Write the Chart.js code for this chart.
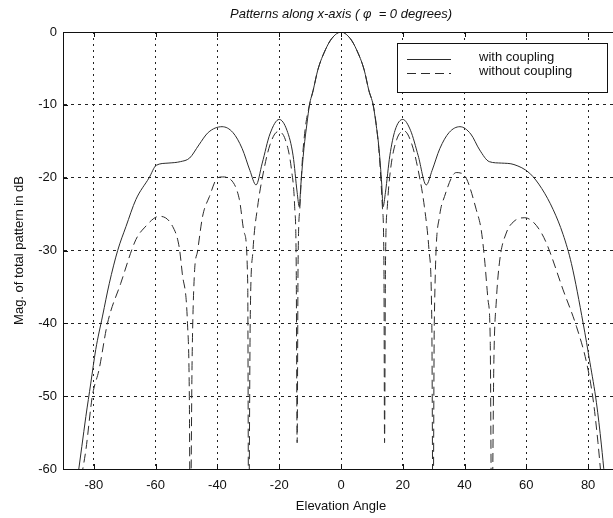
<!DOCTYPE html>
<html>
<head>
<meta charset="utf-8">
<script src="https://cdn.jsdelivr.net/npm/chart.js@4"></script>
<style>
  html, body { margin: 0; padding: 0; background: #fff; overflow: hidden; }
  #wrap { width: 613px; height: 518px; overflow: hidden; }
  canvas { display: block; }
</style>
</head>
<body>
<div id="wrap"><canvas id="patternChart" width="630" height="518"></canvas></div>
<script>
// tick labels
const xTicks = [-80, -60, -40, -20, 0, 20, 40, 60, 80];
const yTicks = [0, -10, -20, -30, -40, -50, -60];

// with coupling (solid)
const withAngle = [-85.2, -83.9, -82.6, -81, -79.4, -77.2, -75, -72.3, -69.6, -66.4, -62.1, -59.8, -56, -52, -49, -46, -43, -38.5, -35, -32, -29.5, -27.5, -25.5, -23, -20, -17.5, -15.5, -14.2, -13.5, -13, -12, -11, -10.2, -9, -7.5, -5, -3, 0,
  3, 5, 7.5, 9, 10.4, 11.3, 12.3, 13.2, 13.6, 14.4, 15.8, 17.5, 20, 22.5, 25, 27.6, 29.5, 32, 35, 38.5, 42, 44.9, 48, 52, 56, 61.1, 65, 68.7, 71.9, 74.6, 78.4, 80.6, 82.7, 84.3, 85.3];
const withDb = [-61, -56.9, -52.8, -48.2, -43.6, -39, -34.5, -30, -26.7, -23, -20, -18.3, -18, -17.8, -17.3, -15.5, -13.8, -13, -13.8, -16, -19, -21, -18, -14, -12, -13.5, -17, -22, -24, -21, -16, -12.5, -10, -8, -5.2, -2.4, -0.9, 0,
  -0.9, -2.4, -5.2, -8, -10, -12.5, -16, -21, -24, -22, -17, -13.5, -12, -13.5, -17, -21, -19, -16, -13.8, -13, -14, -16.2, -17.8, -18, -18.2, -19.4, -21.5, -24.4, -27.8, -31.8, -40, -45.4, -50.9, -56.7, -61];

// without coupling (dashed)
const withoutAngle = [-84, -82.6, -80.5, -78.3, -75.6, -71.3, -66.4, -63.7, -58.8, -54.5, -52.4, -51.4, -49.7, -49.1, -48.8, -48.2, -47.5, -46.4, -44.8, -42.6, -39.9, -38.3, -35.6, -32.9, -31.3, -30.2, -29.9, -29.4, -28.5, -27, -25, -23, -20.5, -18, -16, -15, -14.5, -14.2, -13.9, -13.3, -12.5, -11.5, -10.2, -9, -7.5, -5, -3, 0,
  3, 5, 7.5, 9, 10.4, 11.5, 12.5, 13.4, 13.9, 14.1, 14.4, 15, 16, 18, 20.5, 23, 25, 27, 28.5, 29.4, 29.8, 30.2, 31.9, 33.5, 37.3, 39, 40.6, 43.8, 45.4, 46.5, 47.6, 48.3, 48.8, 49.5, 50.3, 51.4, 53.5, 56, 59.5, 62, 64.9, 67, 71.9, 76.2, 79.5, 81.6, 83.2, 84.2];
const withoutDb = [-61, -57.4, -50, -46.3, -40, -34.5, -28.5, -26.9, -25.3, -26.7, -29.5, -33.1, -40, -50, -70, -45, -33.6, -30, -25.3, -22.6, -20, -19.9, -20.3, -23, -27.6, -34.5, -70, -40, -30, -24, -19, -15.5, -13.7, -14.8, -19, -24, -32, -56.4, -32, -24, -17.5, -13, -10, -8, -5.2, -2.4, -0.9, 0,
  -0.9, -2.4, -5.2, -8, -10, -13, -17.5, -24, -32, -56.4, -32, -24, -19, -14.8, -13.6, -15.5, -19, -24, -30, -40, -70, -40, -25.3, -22.6, -19.3, -19.4, -20.1, -24.4, -27.2, -31.3, -36.8, -42, -70, -45, -36.8, -31.3, -27.6, -26, -25.5, -26, -27.6, -29.5, -35.4, -40.4, -45.4, -50.4, -56.4, -61];

const toPoints = (xs, ys) => xs.map((x, i) => ({ x: x, y: ys[i] }));

const FONT = "'Liberation Sans', Arial, sans-serif";
Chart.defaults.font.family = FONT;
Chart.defaults.color = "#111";

// title, top border, inward ticks and boxed legend, MATLAB style
const matlabFrame = {
  id: "matlabFrame",
  afterDraw(chart) {
    const { ctx, chartArea: a, scales } = chart;
    ctx.save();
    ctx.strokeStyle = "#111";
    ctx.lineWidth = 1;
    ctx.setLineDash([]);
    ctx.beginPath();
    ctx.moveTo(a.left, a.top + 0.5);
    ctx.lineTo(a.right, a.top + 0.5);
    ctx.stroke();

    // inward ticks
    ctx.beginPath();
    xTicks.forEach(v => {
      const px = Math.round(scales.x.getPixelForValue(v)) + 0.5;
      ctx.moveTo(px, a.top); ctx.lineTo(px, a.top + 5);
      ctx.moveTo(px, a.bottom); ctx.lineTo(px, a.bottom - 5);
    });
    yTicks.forEach(v => {
      const py = Math.round(scales.y.getPixelForValue(v)) + 0.5;
      ctx.moveTo(a.left, py); ctx.lineTo(a.left + 5, py);
    });
    ctx.stroke();

    // title
    ctx.fillStyle = "#111";
    ctx.font = "italic 13px " + FONT;
    ctx.textAlign = "center";
    ctx.textBaseline = "middle";
    ctx.fillText("Patterns along x-axis ( \u03C6  = 0 degrees)", 341, 14);

    // legend
    const lx = 397, ly = 43, lw = 210, lh = 49;
    ctx.fillStyle = "#fff";
    ctx.fillRect(lx, ly, lw, lh);
    ctx.strokeRect(lx + 0.5, ly + 0.5, lw, lh);
    chart.data.datasets.forEach((ds, i) => {
      const y = 59 + i * 14 + 0.5;
      ctx.strokeStyle = ds.borderColor;
      ctx.setLineDash(ds.borderDash || []);
      ctx.beginPath();
      ctx.moveTo(407, y);
      ctx.lineTo(451, y);
      ctx.stroke();
      ctx.setLineDash([]);
      ctx.fillStyle = "#111";
      ctx.font = "13px " + FONT;
      ctx.textAlign = "left";
      ctx.fillText(ds.label, 479, y - 2);
    });
    ctx.restore();
  }
};

const ctx = document.getElementById("patternChart");

new Chart(ctx, {
  type: "line",
  data: {
    datasets: [
      {
        label: "with coupling",
        data: toPoints(withAngle, withDb),
        borderColor: "#2b2b2b",
        borderWidth: 1,
        pointRadius: 0,
        cubicInterpolationMode: "monotone",
        fill: false
      },
      {
        label: "without coupling",
        data: toPoints(withoutAngle, withoutDb),
        borderColor: "#2b2b2b",
        borderWidth: 1,
        borderDash: [9, 5],
        pointRadius: 0,
        cubicInterpolationMode: "monotone",
        fill: false
      }
    ]
  },
  options: {
    responsive: false,
    animation: false,
    layout: { padding: { top: 32, right: 11, left: 0, bottom: 0 } },
    plugins: {
      legend: { display: false },
      tooltip: { enabled: false },
      title: { display: false }
    },
    scales: {
      x: {
        type: "linear",
        min: -90,
        max: 90,
        afterBuildTicks: s => { s.ticks = xTicks.map(v => ({ value: v })); },
        afterFit: s => { s.height = 49; },
        ticks: { font: { size: 13 }, color: "#111", padding: 9, maxRotation: 0 },
        grid: { color: "#222", lineWidth: 1, drawTicks: false },
        border: { display: true, color: "#111", width: 1, dash: [2, 4] },
        title: { display: true, text: "Elevation Angle", font: { size: 13 }, color: "#111", padding: { top: 0 } }
      },
      y: {
        type: "linear",
        min: -60,
        max: 0,
        afterBuildTicks: s => { s.ticks = yTicks.map(v => ({ value: v })); },
        afterFit: s => { s.width = 63; },
        ticks: { font: { size: 13 }, color: "#111", padding: 6 },
        grid: { color: "#222", lineWidth: 1, drawTicks: false },
        border: { display: true, color: "#111", width: 1, dash: [3, 4] },
        title: { display: true, text: "Mag. of total pattern in dB", font: { size: 13 }, color: "#111", padding: { top: 12, bottom: 4 } }
      }
    }
  },
  plugins: [matlabFrame]
});
</script>
</body>
</html>
